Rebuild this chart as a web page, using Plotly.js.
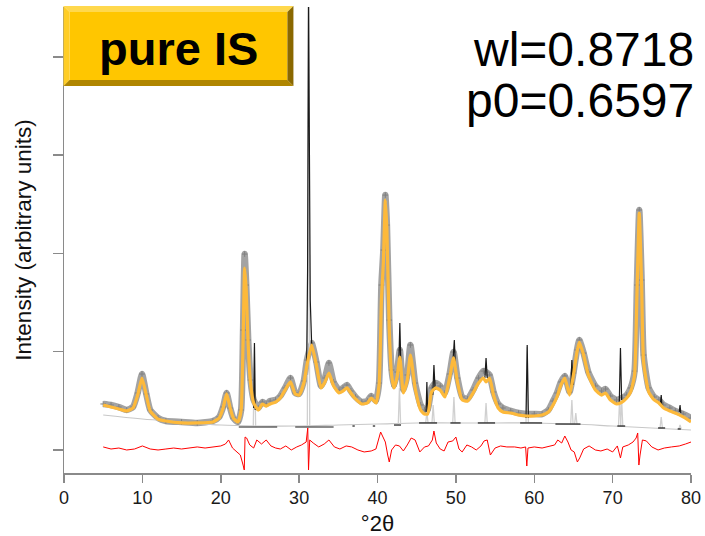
<!DOCTYPE html>
<html>
<head>
<meta charset="utf-8">
<script src="https://cdn.plot.ly/plotly-3.0.1.min.js"></script>
<style>
  html, body { margin: 0; padding: 0; background: #fff; }
  #chart { width: 705px; height: 536px; }
</style>
</head>
<body>
<div id="chart"></div>
<script>
// ---- diffraction pattern, 2θ in degrees, intensity in arbitrary units ----
var twoTheta = [5.0, 6.0, 7.0, 8.0, 8.8, 9.4, 9.95, 10.5, 11.0, 12.0,
  13.0, 15.0, 17.0, 19.0, 19.8, 20.3, 20.75, 21.2, 21.6, 22.2,
  22.6, 22.85, 23.05, 23.25, 23.5, 23.8, 24.2, 24.8, 25.3, 25.8,
  26.3, 27.0, 27.6, 28.2, 28.9, 29.5, 30.0, 30.6, 31.0, 31.6,
  32.2, 32.8, 33.3, 33.8, 34.4, 35.1, 35.6, 36.1, 36.6, 37.2,
  38.0, 38.7, 39.2, 39.8, 40.2, 40.5, 40.75, 41.0, 41.2, 41.5,
  41.8, 42.1, 42.5, 42.85, 43.3, 43.8, 44.2, 44.8, 45.5, 46.0,
  46.4, 46.9, 47.4, 48.0, 48.6, 49.2, 49.7, 50.2, 50.8, 51.5,
  52.2, 52.9, 53.5, 53.85, 54.3, 54.8, 55.4, 56.0, 57.0, 58.0,
  59.0, 60.0, 61.0, 61.8, 62.4, 62.9, 63.4, 63.9, 64.5, 65.0,
  65.45, 65.75, 66.3, 66.9, 67.8, 68.6, 69.1, 69.7, 70.5, 71.2,
  71.8, 72.3, 72.8, 73.1, 73.4, 73.7, 73.95, 74.6, 75.3, 75.9,
  76.5, 77.3, 78.0, 79.0, 80.0];

// measured intensities
var observed = [468, 458, 437, 407, 437, 580, 773, 570, 407, 325,
  295, 285, 275, 295, 336, 437, 580, 427, 325, 285,
  407, 1220, 1993, 1678, 1119, 712, 509, 427, 488, 468,
  498, 509, 549, 631, 732, 580, 570, 702, 915, 1088,
  895, 651, 732, 885, 692, 610, 631, 661, 600, 539,
  488, 498, 549, 498, 681, 1678, 2034, 2593, 2288, 1322,
  814, 651, 793, 1017, 610, 763, 1068, 681, 458, 407,
  407, 631, 681, 651, 580, 773, 997, 732, 539, 519,
  610, 732, 803, 793, 763, 590, 468, 427, 397, 376,
  366, 366, 366, 407, 498, 580, 692, 753, 590, 783,
  1017, 1119, 986, 793, 651, 600, 620, 549, 509, 529,
  559, 631, 803, 1678, 2441, 1729, 966, 631, 539, 509,
  458, 427, 397, 366, 325];

// calculated profile
var calculated = [458, 437, 417, 397, 427, 559, 732, 559, 397, 315,
  295, 275, 275, 285, 325, 427, 570, 427, 325, 285,
  407, 1119, 1851, 1627, 1068, 681, 478, 407, 468, 447,
  468, 488, 529, 610, 692, 570, 559, 681, 864, 1068,
  864, 631, 692, 783, 651, 580, 600, 631, 580, 519,
  468, 478, 529, 478, 661, 1526, 1912, 2543, 2237, 1220,
  763, 631, 742, 946, 580, 712, 966, 631, 407, 366,
  366, 590, 631, 610, 539, 732, 936, 692, 509, 498,
  580, 681, 732, 692, 732, 559, 427, 386, 376, 356,
  346, 346, 356, 386, 458, 539, 661, 732, 559, 763,
  997, 1098, 966, 763, 610, 559, 580, 509, 468, 488,
  529, 590, 763, 1576, 2410, 1678, 895, 590, 509, 478,
  427, 397, 376, 336, 285];

// refined background
var bgTheta = [5, 10, 15, 20, 25, 30, 35, 40, 45, 50, 55, 60, 65, 70, 75, 80];
var background = [356, 315, 285, 254, 244, 244, 254, 264, 275, 275, 275, 275, 264, 244, 224, 203];

// narrow reflections of the crystalline phase (base level, apex)
var peakTheta = [24.3, 31.2, 42.8, 46.3, 47.1, 49.75, 53.85, 59.1, 64.8, 65.3, 70.9, 71.15, 76.2, 78.6];
var peakBase  = [244, 244, 259, 275, 275, 275, 275, 275, 264, 264, 244, 244, 224, 214];
var peakTop   = [1048, 4600, 631, 386, 458, 539, 478, 1048, 509, 376, 529, 509, 336, 254];
var peakHalfWidth = 0.15;

// observed sharp reflections: baseline stretches and spikes (null = break)
var sharpTheta = [22.3, 27.2, null, 29.5, 34.4, null, 36.8, 37.1, null, 39.4, 39.7, null,
  42.1, 43.0, null, 45.3, 47.6, null, 49.3, 50.6, null, 52.8, 55.0, null,
  58.2, 61.0, null, 62.7, 65.9, null, 70.6, 71.6, null, 75.8, 76.7, null, 78.3, 78.7, null,
  24.2, 24.3, 24.4, null,
  30.95, 31.08, 31.2, 31.3, 31.42, 31.6, null,
  42.7, 42.85, 43.0, null,
  46.2, 46.3, 46.4, null,
  47.05, 47.2, 47.35, null,
  49.6, 49.8, 49.95, null,
  53.7, 53.85, 54.0, null,
  58.95, 59.1, 59.25, null,
  64.65, 64.8, 64.95, null,
  70.85, 71.0, 71.15, null,
  76.1, 76.2, 76.3, null,
  78.5, 78.6, 78.7];
var sharpInt = [234, 234, null, 234, 234, null, 244, 244, null, 244, 244, null,
  254, 254, null, 275, 275, null, 275, 275, null, 275, 275, null,
  275, 275, null, 264, 264, null, 244, 244, null, 224, 224, null, 214, 214, null,
  427, 1088, 407, null,
  763, 1831, 4678, 2543, 1526, 1068, null,
  814, 1292, 793, null,
  386, 692, 386, null,
  559, 864, 610, null,
  864, 1119, 834, null,
  732, 936, 732, null,
  325, 1068, 325, null,
  580, 915, 661, null,
  488, 1037, 509, null,
  468, 559, 447, null,
  386, 458, 376];

// difference curve (observed - calculated), plotted around zero
var diffTheta = [5.0, 6, 7, 8, 9, 10, 11, 12, 13, 14, 15, 16, 17, 18, 19, 20, 20.6, 21.0, 21.5, 22.0,
  22.5, 22.85, 23.0, 23.1, 23.3, 23.7, 24.2, 24.6, 25.2, 25.8, 26.4, 27.0, 27.6, 28.3, 29.0, 29.7,
  30.3, 30.9, 31.1, 31.2, 31.35, 31.8, 32.5, 33.2, 33.8, 34.5, 35.2, 36.0, 36.7, 37.5, 38.3, 39.2,
  39.8, 40.4, 40.7, 41.0, 41.3, 41.5, 41.8, 42.3, 42.8, 43.3, 43.8, 44.3, 44.8, 45.4, 46.0, 46.5,
  47.0, 47.2, 47.5, 48.0, 48.5, 49.0, 49.6, 50.0, 50.4, 50.8, 51.4, 52.0, 52.6, 53.2, 53.6, 54.0,
  54.4, 55.0, 55.7, 56.5, 57.5, 58.3, 58.9, 59.05, 59.2, 60.0, 61.0, 62.0, 62.6, 63.0, 63.5, 63.9,
  64.3, 64.7, 65.1, 65.5, 65.8, 66.3, 67.0, 67.8, 68.5, 69.3, 70.0, 70.6, 71.0, 71.3, 72.0, 72.6,
  73.0, 73.2, 73.35, 73.5, 73.8, 74.3, 75.0, 75.8, 76.6, 77.5, 78.5, 79.3, 80.0];
var difference = [31, 10, 20, 0, 10, 41, 10, 0, 10, 20, 10, 20, 31, 20, 31, 41, 61, 102, 20, -20,
  -51, -153, -203, 132, 122, 51, 20, 102, 61, 102, 41, 20, 10, 41, 0, 31,
  51, 81, 224, -203, 102, 71, 31, 61, 102, 31, 10, 41, 31, 0, -20, -10,
  10, 183, 132, 81, -51, -122, 0, 51, 41, -10, 51, 122, 102, -20, 31, 41,
  102, 193, 71, 10, -10, 81, 92, 132, 10, -20, 51, 31, 0, 41, 92, 102,
  -51, 20, 41, 31, 31, 20, 31, -163, 20, 31, 20, 41, 51, 102, 71, 142,
  81, 0, -20, -122, -81, 10, 41, 0, -10, 10, -20, 41, -81, 31, 51, 81,
  122, 173, -153, -51, 102, 92, 31, 0, 20, 31, 41, 61, 81];

var xTicks = [0, 10, 20, 30, 40, 50, 60, 70, 80];
var yTicks = [0, 1000, 2000, 3000, 4000];

// build the narrow-peak trace from the reflection table
var pkX = [], pkY = [];
for (var i = 0; i < peakTheta.length; i++) {
  pkX.push(peakTheta[i] - peakHalfWidth, peakTheta[i], peakTheta[i] + peakHalfWidth, null);
  pkY.push(peakBase[i], peakTop[i], peakBase[i], null);
}

var traces = [
  { x: twoTheta, y: observed, type: 'scatter', mode: 'lines',
    line: { color: '#a3a3a3', width: 6.5, shape: 'spline', smoothing: 0.5 }, hoverinfo: 'skip' },
  { x: twoTheta, y: observed, type: 'scatter', mode: 'markers',
    marker: { color: '#808080', size: 4, symbol: 'cross-thin-open', line: { color: '#808080', width: 1 } }, hoverinfo: 'skip' },
  { x: bgTheta, y: background, type: 'scatter', mode: 'lines',
    line: { color: '#c8c8c8', width: 1.1, shape: 'spline' }, hoverinfo: 'skip' },
  { x: pkX, y: pkY, type: 'scatter', mode: 'lines', connectgaps: false,
    line: { color: '#d0d0d0', width: 1.3 }, hoverinfo: 'skip' },
  { x: sharpTheta, y: sharpInt, type: 'scatter', mode: 'lines', connectgaps: false,
    line: { color: '#1a1a1a', width: 1.2 }, hoverinfo: 'skip' },
  { x: twoTheta, y: calculated, type: 'scatter', mode: 'lines',
    line: { color: '#fdb93a', width: 3.2, shape: 'spline', smoothing: 0.5 }, hoverinfo: 'skip' },
  { x: diffTheta, y: difference, type: 'scatter', mode: 'lines',
    line: { color: '#ff0000', width: 1 }, hoverinfo: 'skip' }
];

// plot-area geometry in pixels, used to place the label box and texts
var L = 63.5, R = 690.7, T = 7, B = 473;
function px(x) { return (x - L) / (R - L); }
function py(y) { return (B - y) / (B - T); }
function poly(pts) {
  return 'M' + pts.map(function (p) { return px(p[0]).toFixed(4) + ',' + py(p[1]).toFixed(4); }).join('L') + 'Z';
}
var bx0 = 63, bx1 = 293, by0 = 6, by1 = 86, bv = 6;
function face(path, color) {
  return { type: 'path', xref: 'paper', yref: 'paper', path: path, fillcolor: color, line: { width: 0 }, layer: 'above' };
}

var layout = {
  width: 705, height: 536,
  margin: { l: L, r: 705 - R, t: T, b: 536 - B, pad: 0 },
  paper_bgcolor: '#ffffff', plot_bgcolor: '#ffffff',
  showlegend: false,
  font: { family: 'Liberation Sans, Arial, sans-serif', color: '#111' },
  xaxis: {
    range: [0, 80], tickvals: xTicks, ticktext: xTicks.map(String),
    showgrid: false, zeroline: false, showline: true, linecolor: '#8a8a8a', linewidth: 1.5,
    ticks: 'outside', ticklen: 8, tickwidth: 1.5, tickcolor: '#8a8a8a',
    tickfont: { size: 18, color: '#1a1a1a' },
    title: { text: '°2θ', font: { size: 22, color: '#111' }, standoff: 8 }
  },
  yaxis: {
    range: [-234, 4506], tickvals: yTicks, showticklabels: false,
    showgrid: false, zeroline: false, showline: true, linecolor: '#8a8a8a', linewidth: 1.5,
    ticks: 'outside', ticklen: 10, tickwidth: 1.5, tickcolor: '#8a8a8a',
    title: { text: 'Intensity (arbitrary units)', font: { size: 22.5, color: '#111' }, standoff: 14 }
  },
  shapes: [
    face(poly([[bx0 + bv, by0 + bv], [bx1 - bv, by0 + bv], [bx1 - bv, by1 - bv], [bx0 + bv, by1 - bv]]), '#ffc600'),
    face(poly([[bx0, by0], [bx1, by0], [bx1 - bv, by0 + bv], [bx0 + bv, by0 + bv]]), '#ffd84d'),
    face(poly([[bx0, by0], [bx0 + bv, by0 + bv], [bx0 + bv, by1 - bv], [bx0, by1]]), '#ffcd26'),
    face(poly([[bx0, by1], [bx1, by1], [bx1 - bv, by1 - bv], [bx0 + bv, by1 - bv]]), '#b08600'),
    face(poly([[bx1, by0], [bx1, by1], [bx1 - bv, by1 - bv], [bx1 - bv, by0 + bv]]), '#8a6800')
  ],
  annotations: [
    { xref: 'paper', yref: 'paper', x: px(178.5), y: py(48), xanchor: 'center', yanchor: 'middle',
      text: '<b>pure IS</b>', showarrow: false, font: { size: 47, color: '#000', family: 'Liberation Sans, Arial, sans-serif' } },
    { xref: 'paper', yref: 'paper', x: px(696), y: py(49), xanchor: 'right', yanchor: 'middle',
      text: 'wl=0.8718', showarrow: false, font: { size: 48, color: '#000', family: 'Liberation Sans, Arial, sans-serif' } },
    { xref: 'paper', yref: 'paper', x: px(696), y: py(101), xanchor: 'right', yanchor: 'middle',
      text: 'p0=0.6597', showarrow: false, font: { size: 48, color: '#000', family: 'Liberation Sans, Arial, sans-serif' } }
  ]
};

Plotly.newPlot('chart', traces, layout, { staticPlot: true, displayModeBar: false });
</script>
</body>
</html>
